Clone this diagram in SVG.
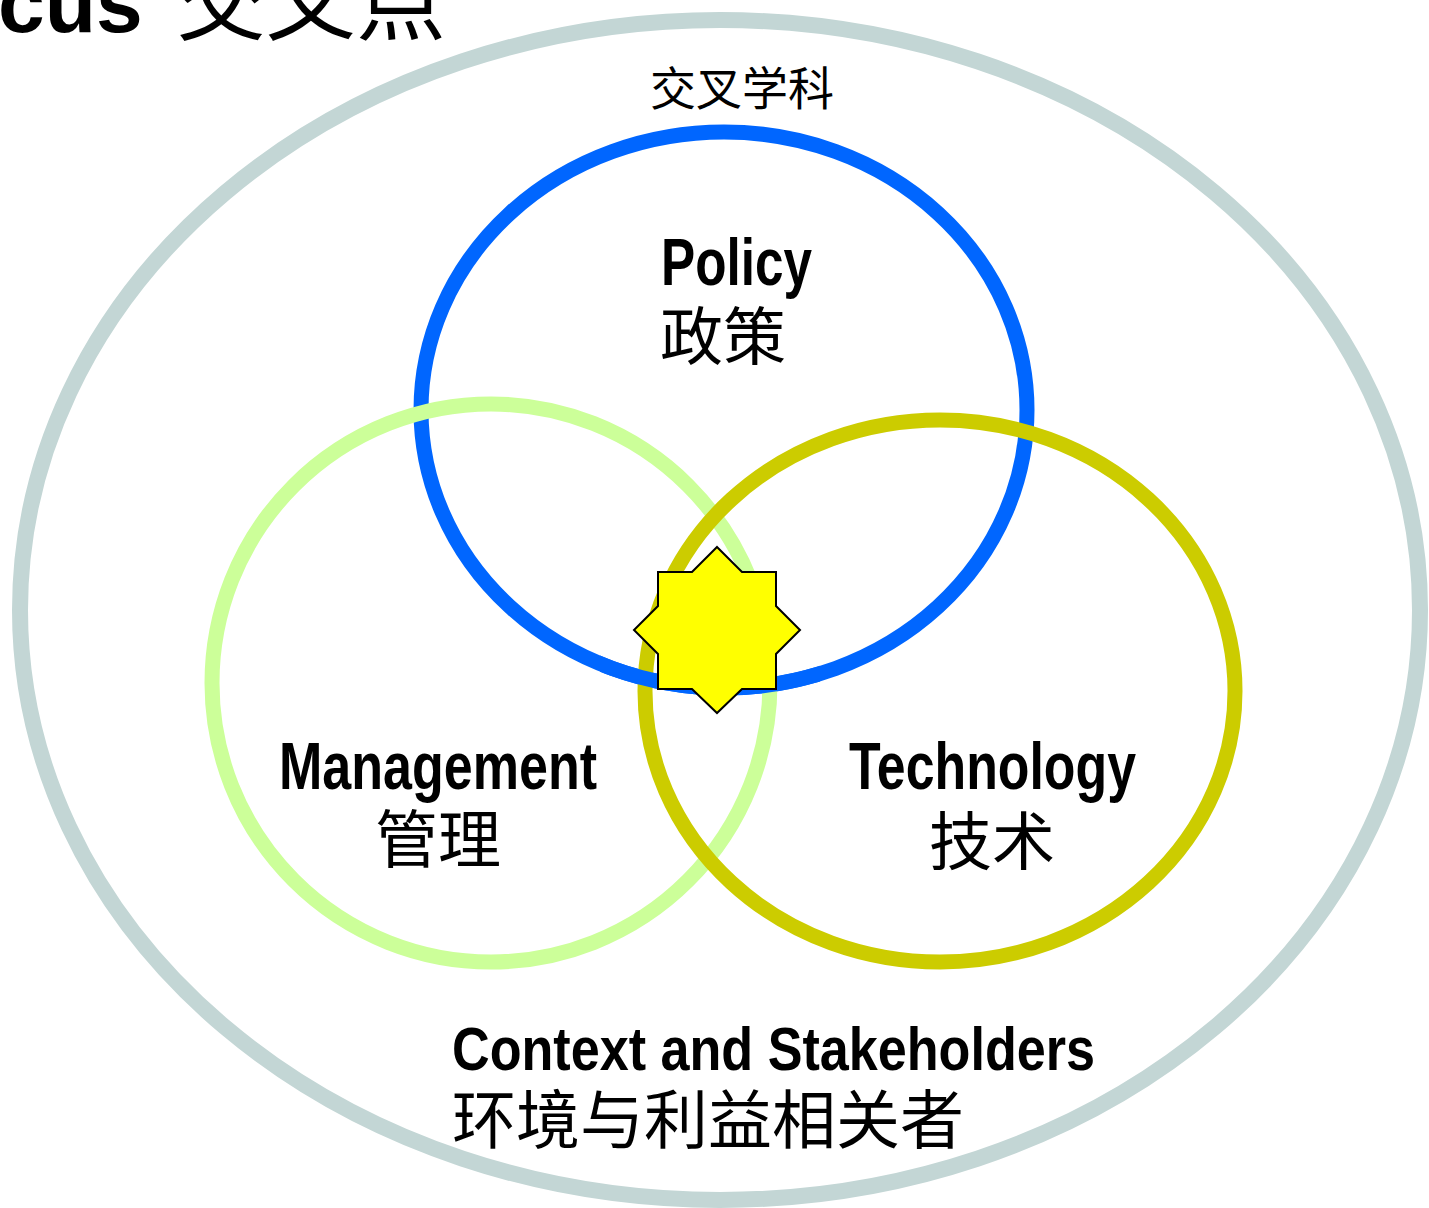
<svg xmlns="http://www.w3.org/2000/svg" width="1429" height="1208" viewBox="0 0 1429 1208">
<style>
.ring{fill:none}
.en{font-family:"Liberation Sans",Arial,sans-serif;font-weight:bold;fill:#000}
.zh{font-family:"Liberation Sans","Noto Sans CJK SC",sans-serif;fill:#000}
</style>
<defs>
<clipPath id="blueBottom"><rect x="600" y="640" width="220" height="80"/></clipPath>
</defs>
<rect width="1429" height="1208" fill="#fff"/>
<g id="title">
<text x="-2" y="32" class="en" font-size="84">cus</text>
<text x="176" y="33" class="zh" font-size="90">交叉点</text>
</g>
<g id="context">
<ellipse class="ring" cx="720" cy="610" rx="700" ry="590" stroke="#c3d6d5" stroke-width="16"/>
<text x="650" y="105" class="zh" font-size="46" fill="#222">交叉学科</text>
<text x="452" y="1070" class="en" font-size="62" textLength="643" lengthAdjust="spacingAndGlyphs">Context and Stakeholders</text>
<text x="452" y="1143" class="zh" font-size="64">环境与利益相关者</text>
</g>
<g id="policy">
<ellipse class="ring" cx="724" cy="410" rx="303" ry="278" stroke="#0066ff" stroke-width="15"/>
<text x="661" y="285" class="en" font-size="66" textLength="151" lengthAdjust="spacingAndGlyphs">Policy</text>
<text x="660" y="359" class="zh" font-size="63">政策</text>
</g>
<g id="management">
<ellipse class="ring" cx="491" cy="683" rx="279" ry="279" stroke="#ccff99" stroke-width="15"/>
<text x="279" y="789" class="en" font-size="66" textLength="318" lengthAdjust="spacingAndGlyphs">Management</text>
<text x="375" y="862" class="zh" font-size="63">管理</text>
</g>
<g id="technology">
<ellipse class="ring" cx="940" cy="691" rx="295" ry="271" stroke="#cccc00" stroke-width="15"/>
<text x="849" y="789" class="en" font-size="66" textLength="287" lengthAdjust="spacingAndGlyphs">Technology</text>
<text x="929" y="864" class="zh" font-size="63">技术</text>
</g>
<g id="policy-overlap">
<ellipse class="ring" cx="724" cy="410" rx="303" ry="278" stroke="#0066ff" stroke-width="15" clip-path="url(#blueBottom)"/>
</g>
<g id="focus-star">
<polygon points="717,547 742,572 776,572 776,606 800,630 776,654 776,689 742,689 717,713 692,689 658,689 658,654 634,630 658,606 658,572 692,572" fill="#ffff00" stroke="#000" stroke-width="2"/>
</g>
<g id="connectors"/>
</svg>
